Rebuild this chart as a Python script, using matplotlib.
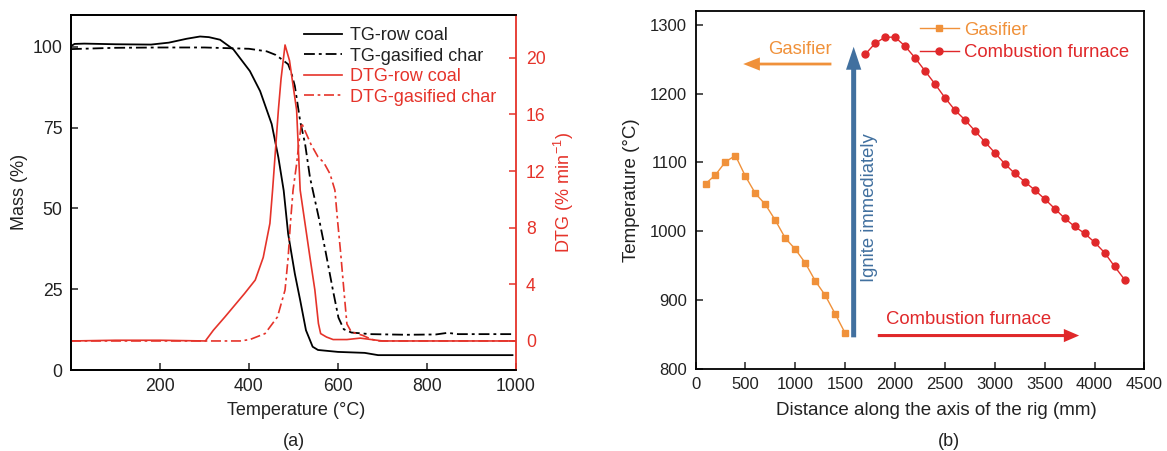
import matplotlib
matplotlib.use("Agg")
import matplotlib.pyplot as plt
from matplotlib.lines import Line2D

plt.rcParams['font.family'] = ['Liberation Sans', 'DejaVu Sans']
plt.rcParams['mathtext.default'] = 'regular'

# ---------------- Panel (a) data ----------------
tg_coal_T = [0, 8, 30, 100, 180, 220, 260, 290, 310, 335, 365, 402, 425, 451, 466, 478,
             488, 503, 515, 528, 543, 555, 600, 660, 690, 992]
tg_coal_M = [100.2, 100.9, 101.0, 100.8, 100.7, 101.3, 102.5, 103.2, 103.0, 102.2, 99.2, 92.5,
             86.3, 76.1, 65.8, 55.5, 42.1, 29.8, 21.6, 12.3, 7.2, 6.2, 5.6, 5.3, 4.6, 4.6]

tg_char_T = [0, 100, 200, 300, 400, 440, 460, 475, 488, 495, 503, 515, 526, 537, 557, 572,
             589, 601, 613, 630, 672, 755, 820, 846, 870, 992]
tg_char_M = [99.3, 99.7, 99.8, 99.8, 99.4, 98.6, 97.5, 96.0, 94.6, 92.0, 87.9, 77.0, 70.0, 59.6,
             47.0, 36.7, 24.4, 16.2, 12.6, 11.6, 11.1, 10.9, 11.0, 11.5, 11.1, 11.1]

dtg_coal_T = [0, 100, 200, 302, 320, 346, 370, 390, 414, 432, 447, 453, 466, 472, 481, 491,
              507, 515, 537, 548, 556, 561, 574, 589, 620, 650, 700, 1000]
dtg_coal_D = [0.0, 0.05, 0.05, 0.0, 0.76, 1.7, 2.6, 3.35, 4.3, 5.9, 8.3, 10.65, 16.3, 18.5,
              20.9, 19.8, 16.3, 10.65, 5.9, 3.6, 1.23, 0.52, 0.28, 0.1, 0.1, 0.2, 0.0, 0.0]

dtg_char_T = [0, 200, 380, 402, 436, 464, 481, 488, 493, 499, 507, 512, 518, 539, 555, 568,
              582, 593, 599, 606, 614, 620, 630, 655, 672, 688, 1000]
dtg_char_D = [0.0, 0.0, 0.0, 0.1, 0.52, 1.7, 3.6, 5.9, 8.3, 10.65, 12.5, 13.95, 15.4, 13.9,
              13.0, 12.6, 11.8, 10.65, 8.5, 6.2, 3.3, 1.2, 0.63, 0.4, 0.16, 0.0, 0.0]

a_xticks = [200, 400, 600, 800, 1000]
a_yticks = [0, 25, 50, 75, 100]
a_y2ticks = [0, 4, 8, 12, 16, 20]

# ---------------- Panel (b) data ----------------
gas_x = [100, 200, 300, 400, 500, 600, 700, 800, 900, 1000, 1100, 1200, 1300, 1400, 1500]
gas_T = [1069, 1082, 1101, 1110, 1080, 1055, 1039, 1016, 990, 974, 954, 928, 907, 880, 852]
comb_x = [1700, 1800, 1900, 2000, 2100, 2200, 2300, 2400, 2500, 2600, 2700, 2800, 2900, 3000,
          3100, 3200, 3300, 3400, 3500, 3600, 3700, 3800, 3900, 4000, 4100, 4200, 4300]
comb_T = [1257, 1273, 1282, 1282, 1269, 1252, 1233, 1214, 1194, 1176, 1162, 1146, 1130, 1114,
          1098, 1084, 1072, 1060, 1047, 1033, 1019, 1007, 997, 984, 969, 949, 930]
b_xticks = [0, 500, 1000, 1500, 2000, 2500, 3000, 3500, 4000, 4500]
b_yticks = [800, 900, 1000, 1100, 1200, 1300]

RED = '#e5332a'
ORANGE = '#f0913a'
RED_B = '#e0282a'
BLUE = '#41709f'
DARK = '#222222'
DASHDOT = (0, (6, 2.2, 1.6, 2.2))

fig = plt.figure(figsize=(11.67, 4.51), dpi=100)

# ================= Panel (a) =================
ax = fig.add_axes([0.0608, 0.1796, 0.3814, 0.7882])
ax2 = ax.twinx()
ax.plot(tg_coal_T, tg_coal_M, color='black', lw=1.3, label='TG-row coal')
ax.plot(tg_char_T, tg_char_M, color='black', lw=1.3, ls=DASHDOT, label='TG-gasified char')
ax2.plot(dtg_coal_T, dtg_coal_D, color=RED, lw=1.2, label='DTG-row coal')
ax2.plot(dtg_char_T, dtg_char_D, color=RED, lw=1.2, ls=DASHDOT, label='DTG-gasified char')

ax.set_xlim(0, 1000)
ax.set_ylim(0, 110)
ax2.set_ylim(-2.05, 23.05)
ax.set_xticks(a_xticks)
ax.set_yticks(a_yticks)
ax2.set_yticks(a_y2ticks)
for sp in ax.spines.values():
    sp.set_linewidth(1.3)
for sp in ax2.spines.values():
    sp.set_linewidth(1.3)
ax2.spines['right'].set_color(RED)
ax.spines['right'].set_visible(False)
ax.tick_params(axis='both', direction='in', length=5, width=1.1, labelsize=12.7, pad=6,
               colors=DARK)
ax2.tick_params(axis='y', direction='in', length=5, width=1.1, labelsize=12.7, pad=7,
                colors=RED)
ax.set_xlabel('Temperature (°C)', fontsize=13, color=DARK, va='center')
ax.xaxis.set_label_coords(0.507, -0.1153)
ax.set_ylabel('Mass (%)', fontsize=13, color=DARK, va='center')
ax.yaxis.set_label_coords(-0.1146, 0.5)
ax2.set_ylabel('DTG (% min$^{-1}$)', fontsize=13, color=RED, va='center')
ax2.yaxis.set_label_coords(1.108, 0.5)

handles = [Line2D([], [], color='black', lw=1.3),
           Line2D([], [], color='black', lw=1.3, ls=DASHDOT),
           Line2D([], [], color=RED, lw=1.2),
           Line2D([], [], color=RED, lw=1.2, ls=DASHDOT)]
labels = ['TG-row coal', 'TG-gasified char', 'DTG-row coal', 'DTG-gasified char']
leg = ax2.legend(handles, labels, loc='upper left', bbox_to_anchor=(0.524, 0.965),
                 frameon=False, fontsize=13, handlelength=2.1, handletextpad=0.45,
                 labelspacing=0.2, borderpad=0, borderaxespad=0)
for t, c in zip(leg.get_texts(), [DARK, DARK, RED, RED]):
    t.set_color(c)

fig.text(0.2515, 0.021, '(a)', fontsize=13, ha='center', va='center', color=DARK)

# ================= Panel (b) =================
bx = fig.add_axes([0.596, 0.1818, 0.3847, 0.7938])
bx.plot(gas_x, gas_T, color=ORANGE, lw=1.0, marker='s', ms=4.2, label='Gasifier')
bx.plot(comb_x, comb_T, color=RED_B, lw=1.0, marker='o', ms=5, label='Combustion furnace')
bx.set_xlim(0, 4500)
bx.set_ylim(800, 1320)
bx.set_xticks(b_xticks)
bx.set_yticks(b_yticks)
for sp in bx.spines.values():
    sp.set_linewidth(1.3)
bx.tick_params(axis='both', direction='in', length=5, width=1.1, labelsize=12, pad=6,
               colors=DARK)
bx.set_xlabel('Distance along the axis of the rig (mm)', fontsize=13.5, color=DARK,
              va='center')
bx.xaxis.set_label_coords(0.5356, -0.117)
bx.set_ylabel('Temperature (°C)', fontsize=13.5, color=DARK, va='center')
bx.yaxis.set_label_coords(-0.142, 0.5)

lg = bx.legend(loc='upper left', bbox_to_anchor=(0.5, 0.97), frameon=False, fontsize=13.3,
               numpoints=1, handlelength=2.1, handletextpad=0.3, labelspacing=0.3,
               borderpad=0, borderaxespad=0)
for t, c in zip(lg.get_texts(), [ORANGE, RED_B]):
    t.set_color(c)

# annotations
bx.annotate('', xy=(478, 1243), xytext=(1362, 1243),
            arrowprops=dict(arrowstyle='simple,head_length=1.2,head_width=0.95,tail_width=0.2',
                            color=ORANGE, shrinkA=0, shrinkB=0, mutation_scale=10, lw=0))
bx.text(1362, 1264, 'Gasifier', color=ORANGE, fontsize=13.3, ha='right', va='center')

bx.annotate('', xy=(1585, 1268), xytext=(1585, 846),
            arrowprops=dict(arrowstyle='simple,head_length=1.65,head_width=1.1,tail_width=0.36',
                            color=BLUE, shrinkA=0, shrinkB=0, mutation_scale=10, lw=0))
bx.text(1744, 1034, 'Ignite immediately', color=BLUE, fontsize=13.3, rotation=90,
        ha='center', va='center')

bx.annotate('', xy=(3845, 848.6), xytext=(1827, 848.6),
            arrowprops=dict(arrowstyle='simple,head_length=1.1,head_width=0.95,tail_width=0.22',
                            color=RED_B, shrinkA=0, shrinkB=0, mutation_scale=10, lw=0))
bx.text(2740, 872, 'Combustion furnace', color=RED_B, fontsize=13.3, ha='center', va='center')

fig.text(0.813, 0.021, '(b)', fontsize=13, ha='center', va='center', color=DARK)

fig.savefig('out.png', dpi=100)
